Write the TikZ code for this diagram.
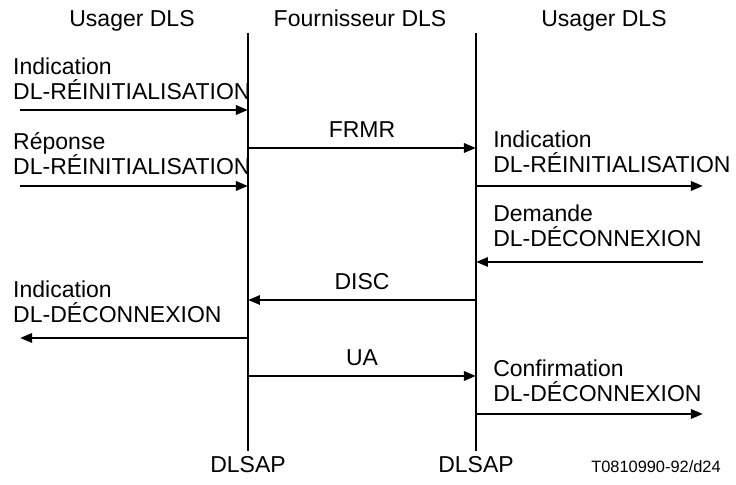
\documentclass[tikz,border=0pt]{standalone}
\usepackage{fontspec}
\setmainfont{Liberation Sans}
\usetikzlibrary{positioning, arrows.meta}

\begin{document}
\begin{tikzpicture}[x=0.5pt, y=-0.5pt, line width=1.25pt,
    txt/.style={inner sep=0pt, font=\fontsize{11.5}{13.8}\selectfont},
    lbl/.style={txt, anchor=base west},
    mid/.style={txt, anchor=base},
    msg/.style={-{Triangle[length=6pt, width=4.6pt]}}]
    \useasboundingbox (0,0) rectangle (736,485);
    % lifelines
    \coordinate (Ltop) at (248,33); \coordinate (Lbot) at (248,451);
    \coordinate (Rtop) at (476,33); \coordinate (Rbot) at (476,451);
    \draw (Ltop) -- (Lbot); \draw (Rtop) -- (Rbot);
    \node[mid] (hUserL) at (132,27) {Usager DLS};
    \node[mid] (hProv) at (360,27) {Fournisseur DLS};
    \node[mid] (hUserR) at (604,27) {Usager DLS};
    \node[mid] (sapL) at (248,473) {DLSAP};
    \node[mid] (sapR) at (476,473) {DLSAP};
    \node[txt, anchor=base east, font=\fontsize{8.2}{10}\selectfont] (ref) at (722,473) {T0810990-92/d24};
    % message end points
    \foreach \n/\y in {1/110, 2/148, 3/186, 4/262, 5/300, 6/338, 7/376, 8/414} {
        \coordinate (L\n) at (248,\y); \coordinate (R\n) at (476,\y);
        \coordinate (UL\n) at (20,\y); \coordinate (UR\n) at (703,\y);
    }
    \draw[msg] (UL1) -- (L1);
    \draw[msg] (UL3) -- (L3);
    \draw[msg] (L2) -- (R2) node[txt, midway, above=4.5pt] (frmr) {FRMR};
    \draw[msg] (R3) -- (UR3);
    \draw[msg] (UR4) -- (R4);
    \draw[msg] (R5) -- (L5) node[txt, midway, above=4.5pt] (disc) {DISC};
    \draw[msg] (L6) -- (UL6);
    \draw[msg] (L7) -- (R7) node[txt, midway, above=4.5pt] (ua) {UA};
    \draw[msg] (R8) -- (UR8);
    % primitive labels
    \foreach \n/\x/\y/\first/\second in {
        indRL/12/75/Indication/DL-RÉINITIALISATION,
        repRL/12/150/Réponse/DL-RÉINITIALISATION,
        indRR/492/148/Indication/DL-RÉINITIALISATION,
        demDR/492/222/Demande/DL-DÉCONNEXION,
        indDL/12/298/Indication/DL-DÉCONNEXION,
        cnfDR/492/377/Confirmation/DL-DÉCONNEXION} {
        \node[lbl] (\n1) at (\x,\y) {\first};
        \node[lbl] (\n2) at (\x,\y+25) {\second};
    }
\end{tikzpicture}
\end{document}
